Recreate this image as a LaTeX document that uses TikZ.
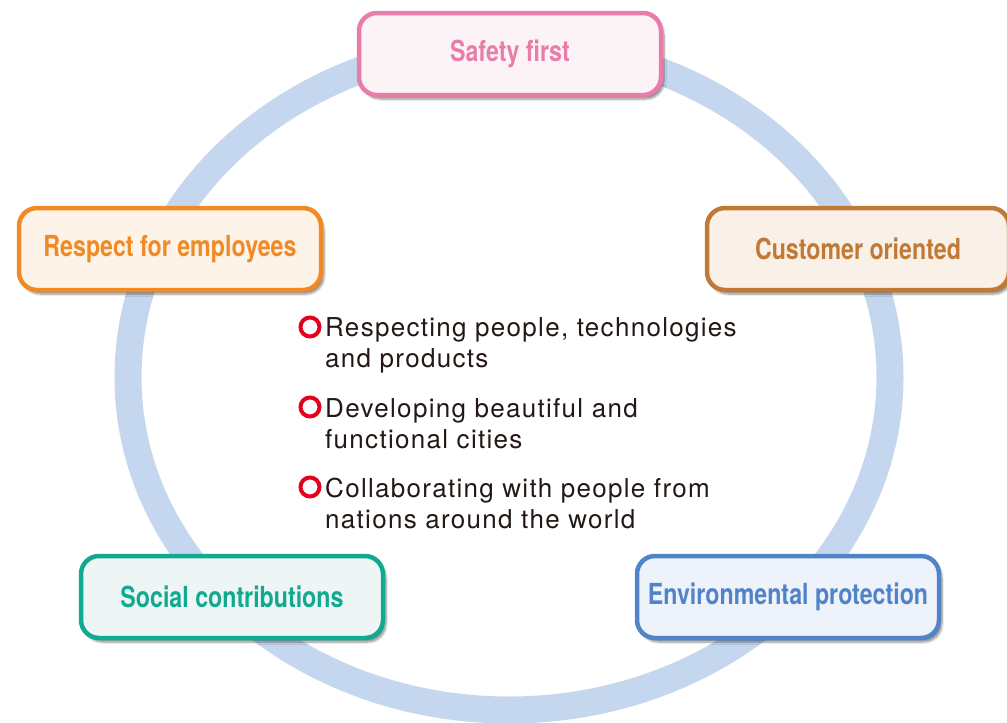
\documentclass[tikz,border=0pt]{standalone}
\usepackage{fontspec}
\setmainfont{TeX Gyre Heros}
\newfontfamily\headfont{TeX Gyre Heros}[FakeStretch=0.8]
\newfontfamily\itemfont{TeX Gyre Heros}[LetterSpace=5]
\usetikzlibrary{shadows.blur}

\definecolor{ringblue}{HTML}{C5D7EE}
\definecolor{pinkline}{HTML}{E97DAA}
\definecolor{pinkfill}{HTML}{FCF3F7}
\definecolor{orangeline}{HTML}{F08A24}
\definecolor{orangefill}{HTML}{FDF3E8}
\definecolor{brownline}{HTML}{C17A35}
\definecolor{brownfill}{HTML}{F9F0E8}
\definecolor{tealline}{HTML}{12A991}
\definecolor{tealfill}{HTML}{EEF6F5}
\definecolor{blueline}{HTML}{5184C6}
\definecolor{bluefill}{HTML}{EEF2FA}
\definecolor{bulletred}{HTML}{E50020}
\definecolor{itemtext}{HTML}{231815}

\tikzset{
  value/.style args={#1/#2}{draw=#1, fill=#2, text=#1, line width=4.5pt,
    rounded corners=18pt, minimum width=302pt, minimum height=82pt,
    font=\headfont\bfseries\fontsize{29}{32}\selectfont,
    blur shadow={shadow xshift=3pt, shadow yshift=-4pt, shadow blur steps=8, shadow opacity=45}},
  bullet/.style={circle, draw=bulletred, line width=4pt, minimum size=19pt, inner sep=0pt},
  % base west sits on the last line of each item
  item/.style={anchor=base west, align=left, inner sep=0pt, text=itemtext,
    font=\itemfont\fontsize{26}{31}\selectfont},
}

\begin{document}
\begin{tikzpicture}[x=1pt, y=-1pt]
  \useasboundingbox (0,0) rectangle (1007,723);

  % the ring behind the five values
  \draw[ringblue, line width=27pt] (509,377) ellipse [x radius=381, y radius=333];

  \node[value=pinkline/pinkfill]     (safety)   at (510,54)  {Safety first};
  \node[value=orangeline/orangefill] (respect)  at (170,249) {Respect for employees};
  \node[value=brownline/brownfill]   (customer) at (858,249) {Customer oriented};
  \node[value=tealline/tealfill]     (social)   at (232,597) {Social contributions};
  \node[value=blueline/bluefill]     (environ)  at (788,597) {Environmental protection};

  % centre list
  \node[bullet] (b1) at (310,327) {};
  \node[item] (i1) at (325,367) {Respecting people, technologies\\and products};
  \node[bullet] (b2) at (310,407) {};
  \node[item] (i2) at (325,448) {Developing beautiful and\\functional cities};
  \node[bullet] (b3) at (310,487) {};
  \node[item] (i3) at (325,528) {Collaborating with people from\\nations around the world};
\end{tikzpicture}
\end{document}
